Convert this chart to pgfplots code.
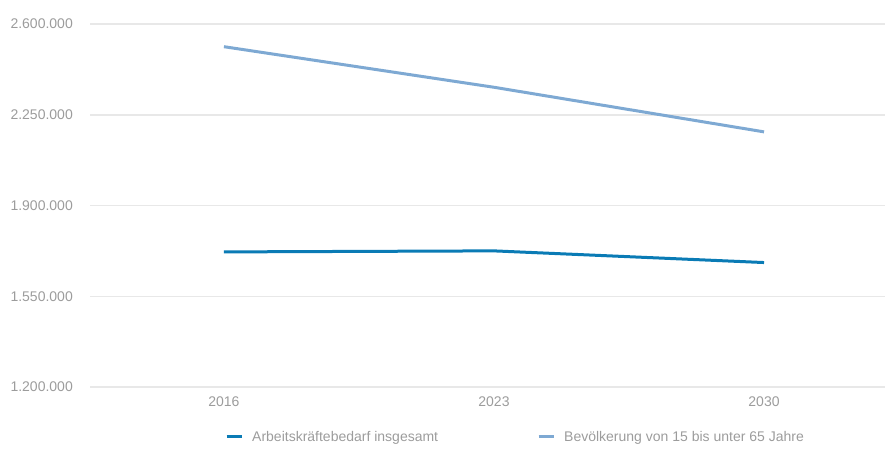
\documentclass[border=0pt]{standalone}
\usepackage{pgfplots}
\pgfplotsset{compat=1.18}
\usepackage{fontspec}
\setmainfont{Liberation Sans}
\definecolor{dblue}{HTML}{0A7BB5}
\definecolor{lblue}{HTML}{7EA9D3}
\definecolor{gridc}{HTML}{E8E8E8}
\definecolor{txt}{HTML}{9C9C9C}
\begin{document}
\begin{tikzpicture}
\path[use as bounding box] (-90pt,-61pt) rectangle (795pt,387pt);
\begin{axis}[
  at={(0,0)}, anchor=south west,
  scale only axis, width=795pt, height=363pt,
  xmin=-0.496, xmax=2.448,
  ymin=1200000, ymax=2600000,
  xtick={0,1,2}, xticklabels={2016,2023,2030},
  ytick={1200000,1550000,1900000,2250000,2600000},
  scaled y ticks=false,
  /pgf/number format/.cd, fixed, 1000 sep={.}, assume math mode=true, /pgfplots/.cd,
  axis line style={draw=none},
  major tick length=0pt,
  ymajorgrids, grid style={gridc, line width=1.5pt},
  tick label style={font=\fontsize{14}{16}\selectfont, text=txt, inner sep=0pt},
  yticklabel shift=17pt,
  xticklabel shift=10pt,
  legend columns=2,
  legend style={at={(0.1698,-0.1377)}, anchor=west, draw=none, fill=none, inner sep=0pt,
    font=\fontsize{14}{16}\selectfont, text=txt,
    /tikz/every odd column/.append style={column sep=7pt},
    /tikz/every even column/.append style={column sep=97pt}},
  legend image code/.code={\draw[#1] (0pt,0pt) -- (15pt,0pt);},
]
\addplot[dblue, line width=3pt] coordinates {(0,1721000) (1,1725000) (2,1680000)};
\addlegendentry{Arbeitskräftebedarf insgesamt}
\addplot[lblue, line width=3pt] coordinates {(0,2512500) (1,2356000) (2,2184000)};
\addlegendentry{Bevölkerung von 15 bis unter 65 Jahre}
\end{axis}
\end{tikzpicture}
\end{document}
